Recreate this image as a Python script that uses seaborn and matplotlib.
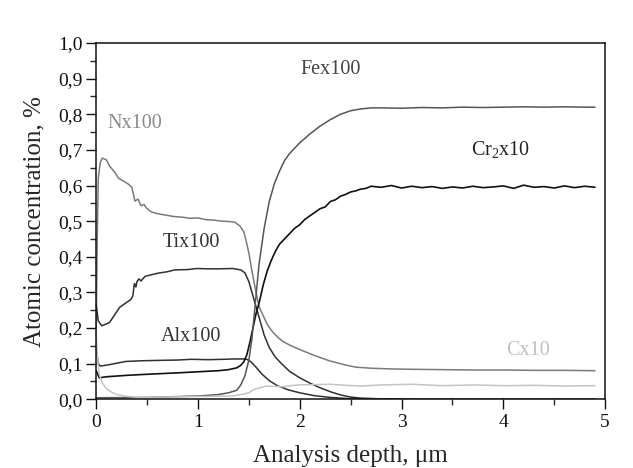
import matplotlib
matplotlib.use("Agg")
import matplotlib.pyplot as plt
import seaborn as sns
import pandas as pd
from matplotlib.ticker import MultipleLocator, FuncFormatter

# ---- data ----
n_x = [0, 0.01, 0.02, 0.04, 0.06, 0.1, 0.13, 0.18, 0.22, 0.27, 0.32, 0.35, 0.37, 0.38, 0.41, 0.43, 0.44,
       0.47, 0.49, 0.54, 0.6, 0.7, 0.76, 0.85, 0.92, 1.0, 1.08, 1.15, 1.23, 1.3, 1.36, 1.41, 1.45, 1.47,
       1.5, 1.53, 1.57, 1.6, 1.64, 1.68, 1.73, 1.78, 1.83, 1.9, 2.02, 2.15, 2.3, 2.45, 2.55, 2.7, 2.9,
       3.1, 3.4, 3.7, 4.0, 4.3, 4.6, 4.9]
n_y = [0.2, 0.45, 0.62, 0.665, 0.677, 0.672, 0.655, 0.638, 0.62, 0.612, 0.603, 0.595, 0.57, 0.556, 0.562,
       0.55, 0.543, 0.547, 0.538, 0.526, 0.521, 0.516, 0.513, 0.511, 0.508, 0.509, 0.504, 0.503, 0.5, 0.499,
       0.497, 0.487, 0.47, 0.448, 0.41, 0.36, 0.3, 0.26, 0.235, 0.21, 0.19, 0.175, 0.163, 0.152, 0.137,
       0.122, 0.107, 0.096, 0.09, 0.087, 0.085, 0.084, 0.083, 0.082, 0.082, 0.081, 0.081, 0.08]

ti_x = [0, 0.02, 0.054, 0.13, 0.23, 0.3, 0.34, 0.36, 0.375, 0.39, 0.40, 0.42, 0.44, 0.48, 0.55, 0.61, 0.7,
        0.77, 0.9, 0.99, 1.1, 1.2, 1.34, 1.42, 1.46, 1.5, 1.55, 1.6, 1.65, 1.7, 1.76, 1.82, 1.9, 2.0,
        2.1, 2.2, 2.3, 2.4, 2.5, 2.6, 2.8, 3.2, 4.0, 4.9]
ti_y = [0.265, 0.22, 0.206, 0.215, 0.258, 0.272, 0.28, 0.29, 0.325, 0.315, 0.33, 0.338, 0.332, 0.345,
        0.35, 0.354, 0.358, 0.363, 0.364, 0.367, 0.366, 0.366, 0.367, 0.363, 0.355, 0.33, 0.28, 0.23,
        0.18, 0.145, 0.118, 0.1, 0.078, 0.06, 0.045, 0.032, 0.021, 0.012, 0.006, 0.003, 0.001, 0.0, 0.0, 0.0]

al_x = [0, 0.02, 0.04, 0.13, 0.29, 0.45, 0.61, 0.8, 0.93, 1.1, 1.25, 1.35, 1.44, 1.48, 1.52, 1.57,
        1.63, 1.7, 1.78, 1.89, 2.0, 2.14, 2.3, 2.46, 2.6, 3.0, 4.0, 4.9]
al_y = [0.14, 0.1, 0.093, 0.097, 0.106, 0.108, 0.109, 0.11, 0.112, 0.111, 0.112, 0.113, 0.113, 0.112,
        0.105, 0.09, 0.07, 0.052, 0.038, 0.026, 0.018, 0.01, 0.005, 0.002, 0.001, 0.0, 0.0, 0.0]

cr_x = [0, 0.03, 0.1, 0.3, 0.5, 0.8, 1.0, 1.2, 1.3, 1.38, 1.42, 1.45, 1.48, 1.51, 1.54, 1.57, 1.6,
        1.64, 1.68, 1.72, 1.76, 1.8, 1.85, 1.9, 1.95, 2.0, 2.05, 2.1, 2.15, 2.2, 2.25, 2.3, 2.35, 2.4,
        2.45, 2.5, 2.55, 2.6, 2.65, 2.7, 2.8, 2.9, 3.0, 3.1, 3.2, 3.3, 3.4, 3.5, 3.6, 3.7, 3.8, 3.9,
        4.0, 4.1, 4.2, 4.3, 4.4, 4.5, 4.6, 4.7, 4.8, 4.9]
cr_y = [0.08, 0.06, 0.063, 0.067, 0.07, 0.074, 0.077, 0.08, 0.083, 0.088, 0.095, 0.105, 0.125, 0.16,
        0.2, 0.24, 0.27, 0.32, 0.36, 0.39, 0.415, 0.435, 0.45, 0.465, 0.48, 0.49, 0.505, 0.515, 0.525,
        0.535, 0.54, 0.555, 0.56, 0.57, 0.575, 0.582, 0.585, 0.59, 0.592, 0.598, 0.595, 0.6, 0.593,
        0.598, 0.594, 0.597, 0.592, 0.596, 0.593, 0.598, 0.594, 0.596, 0.599, 0.592, 0.601, 0.595,
        0.597, 0.593, 0.599, 0.594, 0.598, 0.595]

fe_x = [0, 0.5, 1.0, 1.2, 1.3, 1.38, 1.42, 1.46, 1.5, 1.53, 1.56, 1.6, 1.65, 1.7, 1.75, 1.8, 1.85, 1.9,
        2.0, 2.1, 2.2, 2.3, 2.4, 2.5, 2.6, 2.7, 2.8, 3.0, 3.2, 3.4, 3.6, 3.8, 4.0, 4.2, 4.4, 4.6, 4.8, 4.9]
fe_y = [0.004, 0.005, 0.009, 0.013, 0.018, 0.025, 0.04, 0.065, 0.11, 0.17, 0.26, 0.38, 0.48, 0.555,
        0.605, 0.64, 0.67, 0.69, 0.72, 0.745, 0.767, 0.785, 0.8, 0.81, 0.815, 0.818, 0.818, 0.817,
        0.819, 0.818, 0.82, 0.819, 0.82, 0.821, 0.82, 0.821, 0.82, 0.82]

c_x = [0, 0.01, 0.03, 0.06, 0.1, 0.15, 0.2, 0.3, 0.42, 0.6, 0.9, 1.1, 1.34, 1.44, 1.5, 1.54, 1.57,
       1.62, 1.67, 1.75, 1.83, 1.98, 2.15, 2.3, 2.45, 2.6, 2.8, 3.09, 3.4, 3.7, 4.0, 4.3, 4.6, 4.9]
c_y = [0.19, 0.12, 0.07, 0.045, 0.03, 0.02, 0.013, 0.008, 0.005, 0.006, 0.007, 0.008, 0.009, 0.014,
       0.018, 0.026, 0.029, 0.033, 0.037, 0.036, 0.035, 0.04, 0.041, 0.042, 0.039, 0.037, 0.04, 0.042,
       0.038, 0.04, 0.038, 0.039, 0.037, 0.038]

labels = ["Nx100", "Tix100", "Alx100", "Cr$_2$x10", "Fex100", "Cx10"]
label_x = [0.38, 0.93, 0.93, 3.97, 2.3, 4.24]
label_y = [0.775, 0.44, 0.175, 0.70, 0.925, 0.138]

x_ticks = [0, 1, 2, 3, 4, 5]
y_ticks = [0.0, 0.1, 0.2, 0.3, 0.4, 0.5, 0.6, 0.7, 0.8, 0.9, 1.0]

# ---- plotting ----
sns.set_style("ticks")
plt.rcParams['font.family'] = ['Liberation Serif', 'DejaVu Serif']
plt.rcParams['mathtext.fontset'] = 'custom'
plt.rcParams['mathtext.rm'] = 'Liberation Serif'
plt.rcParams['mathtext.it'] = 'Liberation Serif'

fig = plt.figure(figsize=(6.33, 4.68), dpi=100)
ax = fig.add_axes([0.152, 0.147, 0.804, 0.761])

series = [
    (n_x, n_y, "#7a7a7a", 1.1),
    (ti_x, ti_y, "#303030", 1.1),
    (al_x, al_y, "#303030", 1.1),
    (cr_x, cr_y, "#111111", 1.2),
    (fe_x, fe_y, "#555555", 1.1),
    (c_x, c_y, "#c4c4c4", 1.1),
]
for xs, ys, col, lw in series:
    df = pd.DataFrame({"x": xs, "y": ys})
    sns.lineplot(data=df, x="x", y="y", color=col, lw=lw, ax=ax,
                 estimator=None, sort=False, legend=False)

label_colors = ["#8a8a8a", "#333333", "#333333", "#222222", "#444444", "#c0c0c0"]
for t, lx, ly, lc in zip(labels, label_x, label_y, label_colors):
    ax.text(lx, ly, t, color=lc, fontsize=14.5, ha="center", va="center")

ax.set_xlim(0, 5)
ax.set_ylim(0, 1.0)
ax.set_xticks(x_ticks)
ax.set_yticks(y_ticks)
ax.xaxis.set_minor_locator(MultipleLocator(0.5))
ax.yaxis.set_minor_locator(MultipleLocator(0.05))
ax.yaxis.set_major_formatter(FuncFormatter(lambda v, p: f"{v:.1f}".replace(".", ",")))
ax.xaxis.set_major_formatter(FuncFormatter(lambda v, p: f"{int(round(v))}"))
ax.tick_params(axis="both", which="major", direction="out", length=7, width=1,
               labelsize=14, colors="#111111", top=False, right=False)
ax.tick_params(axis="y", which="major", pad=3)
ax.tick_params(axis="both", which="minor", direction="out", length=4, width=1,
               top=False, right=False)
for sp in ax.spines.values():
    sp.set_visible(True)
    sp.set_linewidth(1.1)
    sp.set_color("#111111")

ax.set_xlabel("Analysis depth, \u03bcm", fontsize=18, labelpad=10)
ax.set_ylabel("Atomic concentration, %", fontsize=18, labelpad=9)

fig.savefig("out.png", dpi=100)
